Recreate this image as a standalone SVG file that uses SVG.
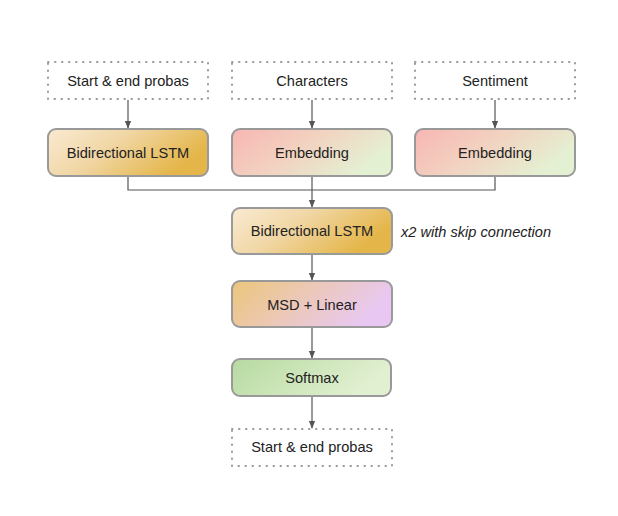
<svg xmlns="http://www.w3.org/2000/svg" width="618" height="516" viewBox="0 0 618 516">
<defs>
<linearGradient id="gLstm" x1="0" y1="0" x2="1" y2="0.4"><stop offset="0" stop-color="#f9ead2"/><stop offset="0.45" stop-color="#f1d7a6"/><stop offset="1" stop-color="#e4b548"/></linearGradient>
<linearGradient id="gEmb" x1="0" y1="0" x2="1" y2="0.4"><stop offset="0" stop-color="#f8b6b4"/><stop offset="0.5" stop-color="#f2d2c0"/><stop offset="1" stop-color="#e4f0d2"/></linearGradient>
<linearGradient id="gMsd" x1="0" y1="0" x2="1" y2="0.3"><stop offset="0" stop-color="#ecc67a"/><stop offset="0.5" stop-color="#ecc8b8"/><stop offset="1" stop-color="#e8c8f2"/></linearGradient>
<linearGradient id="gSoft" x1="0" y1="0" x2="1" y2="0.3"><stop offset="0" stop-color="#b6daa0"/><stop offset="1" stop-color="#e2f0d2"/></linearGradient>
<marker id="arr" viewBox="0 0 10 10" refX="9" refY="5" markerWidth="8" markerHeight="8" orient="auto" markerUnits="userSpaceOnUse"><path d="M0,1 L10,5 L0,9 Z" fill="#555"/></marker>
</defs>
<style>
.io{fill:#fff;stroke:#999;stroke-width:2;stroke-dasharray:0.5 6.5;stroke-linecap:round}
.box{stroke:#999;stroke-width:2}
.t{font-family:"Liberation Sans",Arial,sans-serif;font-size:14.6px;fill:#222;text-anchor:middle;dominant-baseline:central}
.c{fill:none;stroke:#555;stroke-width:1.2}
</style>
<rect width="618" height="516" fill="#fff"/>
<g id="connectors">
<line class="c" x1="128" y1="100" x2="128" y2="128" marker-end="url(#arr)"/>
<line class="c" x1="312" y1="100" x2="312" y2="128" marker-end="url(#arr)"/>
<line class="c" x1="495" y1="100" x2="495" y2="128" marker-end="url(#arr)"/>
<polyline class="c" points="128,177 128,190 495,190 495,177"/>
<line class="c" x1="312" y1="177" x2="312" y2="207" marker-end="url(#arr)"/>
<line class="c" x1="312" y1="255" x2="312" y2="280" marker-end="url(#arr)"/>
<line class="c" x1="312" y1="328" x2="312" y2="358" marker-end="url(#arr)"/>
<line class="c" x1="312" y1="397" x2="312" y2="428" marker-end="url(#arr)"/>
</g>
<g id="in1"><rect class="io" x="48" y="62" width="160" height="37"/><text class="t" x="128" y="81">Start &amp; end probas</text></g>
<g id="in2"><rect class="io" x="232" y="62" width="160" height="37"/><text class="t" x="312" y="81">Characters</text></g>
<g id="in3"><rect class="io" x="415" y="62" width="160" height="37"/><text class="t" x="495" y="81">Sentiment</text></g>
<g id="lstm1"><rect class="box" x="48" y="129" width="160" height="47" rx="8" fill="url(#gLstm)"/><text class="t" x="128" y="153">Bidirectional LSTM</text></g>
<g id="emb1"><rect class="box" x="232" y="129" width="160" height="47" rx="8" fill="url(#gEmb)"/><text class="t" x="312" y="153">Embedding</text></g>
<g id="emb2"><rect class="box" x="415" y="129" width="160" height="47" rx="8" fill="url(#gEmb)"/><text class="t" x="495" y="153">Embedding</text></g>
<g id="lstm2"><rect class="box" x="232" y="208" width="160" height="46" rx="8" fill="url(#gLstm)"/><text class="t" x="312" y="231">Bidirectional LSTM</text>
<text x="401" y="232" font-family="Liberation Sans,Arial,sans-serif" font-size="14.6" font-style="italic" fill="#222" dominant-baseline="central">x2 with skip connection</text></g>
<g id="msd"><rect class="box" x="232" y="281" width="160" height="46" rx="8" fill="url(#gMsd)"/><text class="t" x="312" y="305">MSD + Linear</text></g>
<g id="softmax"><rect class="box" x="232" y="359" width="159" height="37" rx="8" fill="url(#gSoft)"/><text class="t" x="312" y="378">Softmax</text></g>
<g id="out"><rect class="io" x="232" y="429" width="160" height="37"/><text class="t" x="312" y="447">Start &amp; end probas</text></g>
</svg>
